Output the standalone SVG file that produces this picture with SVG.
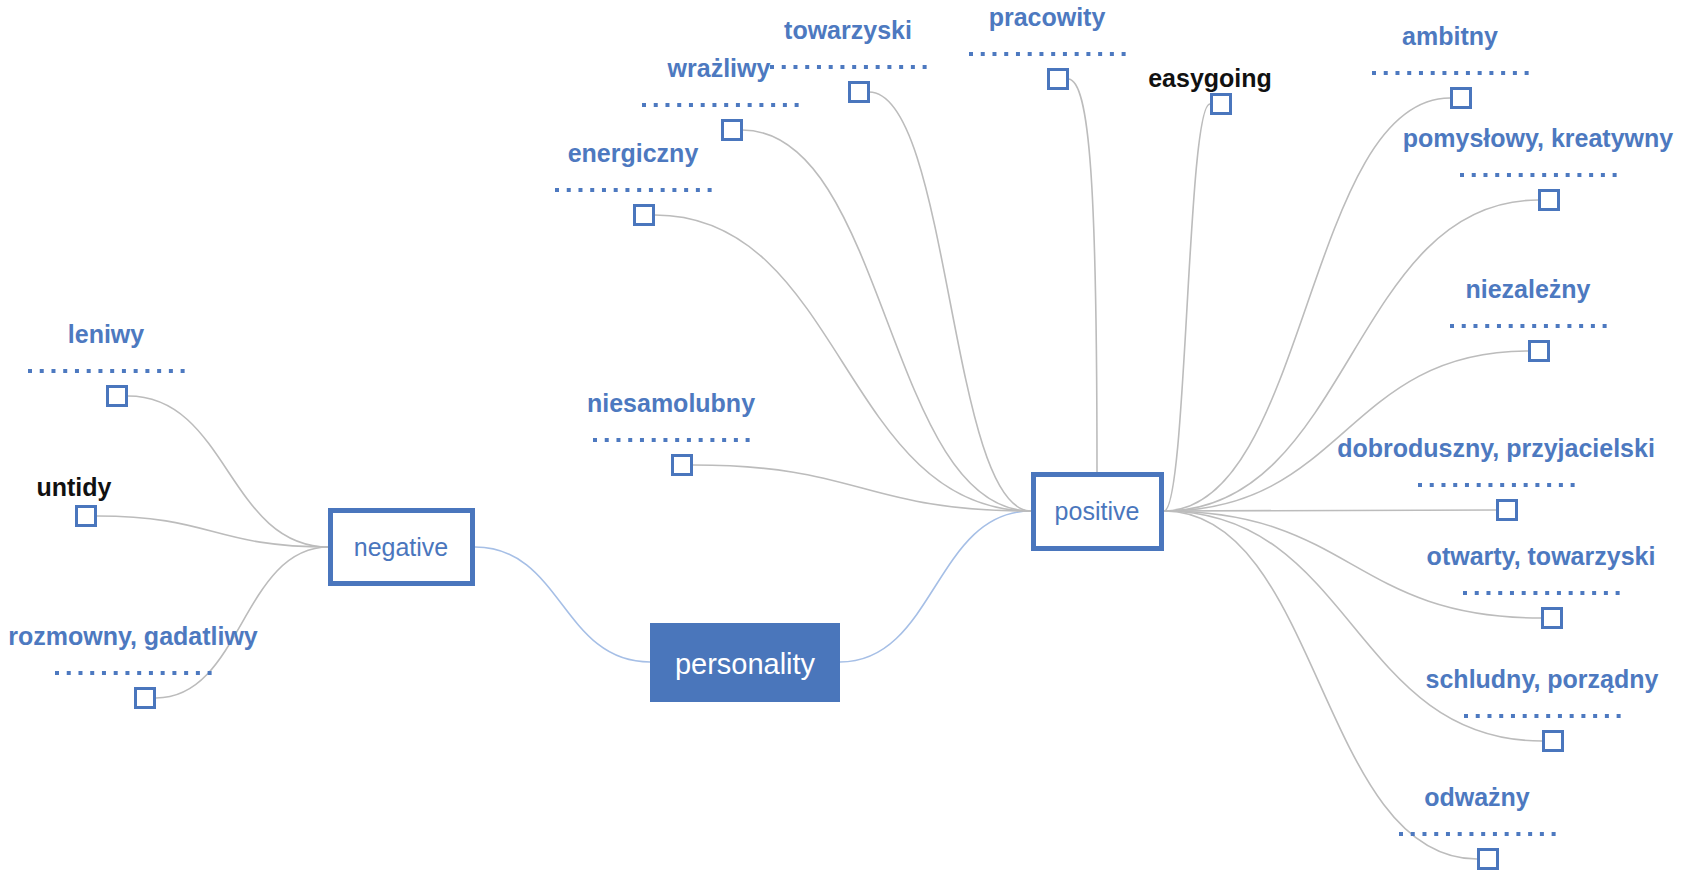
<svg xmlns="http://www.w3.org/2000/svg" width="1690" height="879" viewBox="0 0 1690 879">
<style>
.lbl{font-family:"Liberation Sans",Arial,sans-serif;font-weight:bold;font-size:25px;fill:#4d79c0;text-anchor:middle}
.blk{fill:#111}
.dots{stroke:#4d79c0;stroke-width:4;stroke-dasharray:4 7.74;fill:none}
.sq{fill:#fff;stroke:#4a76bd;stroke-width:3}
.box{fill:#fff;stroke:#4a76bd;stroke-width:5}
.btxt{font-family:"Liberation Sans",Arial,sans-serif;font-size:25px;fill:#4a76bd;text-anchor:middle}
.con{fill:none;stroke:#bcbcbc;stroke-width:1.6}
.conb{fill:none;stroke:#a6bfe6;stroke-width:1.6}
</style>
<rect width="1690" height="879" fill="#fff"/>
<g id="connectors">
<path class="conb" d="M475 547 C562 547 562 662 650 662"/>
<path class="conb" d="M840 662 C935 662 935 511 1031 511"/>
<path class="con" d="M329 547 C228 547 228 396 128 396"/>
<path class="con" d="M329 547 C213 547 213 516 97 516"/>
<path class="con" d="M329 547 C242 547 242 698 156 698"/>
<path class="con" d="M1031 511 C862 511 862 465 693 465"/>
<path class="con" d="M1031 511 C843 511 843 215 655 215"/>
<path class="con" d="M1031 511 C887 511 887 130 742 130"/>
<path class="con" d="M1031 511 C950 511 950 92 869 92"/>
<path class="con" d="M1068 79 C1090 79 1097 190 1097 472"/>
<path class="con" d="M1164 511 C1187 511 1187 104 1210 104"/>
<path class="con" d="M1164 511 C1307 511 1307 98 1450 98"/>
<path class="con" d="M1164 511 C1351 511 1351 200 1538 200"/>
<path class="con" d="M1164 511 C1345 511 1345 351 1528 351"/>
<path class="con" d="M1164 511 L1496 510"/>
<path class="con" d="M1164 511 C1352 511 1352 618 1541 618"/>
<path class="con" d="M1164 511 C1353 511 1353 741 1542 741"/>
<path class="con" d="M1164 511 C1320 511 1320 859 1477 859"/>
</g>
<g id="personality">
<rect x="650" y="623" width="190" height="79" fill="#4a76bb"/>
<text x="745" y="674" font-family="Liberation Sans, Arial, sans-serif" font-size="29" fill="#fff" text-anchor="middle">personality</text>
</g>
<g id="negative">
<rect class="box" x="330.5" y="510.5" width="142" height="73"/>
<text class="btxt" x="401" y="556">negative</text>
</g>
<g id="positive">
<rect class="box" x="1033.5" y="474.5" width="128" height="74"/>
<text class="btxt" x="1097" y="520">positive</text>
</g>
<g id="leniwy">
<text class="lbl" x="106" y="343">leniwy</text>
<line class="dots" x1="28" y1="371" x2="185" y2="371"/>
<rect class="sq" x="107.5" y="386.5" width="19" height="19"/>
</g>
<g id="untidy">
<text class="lbl blk" x="74" y="496">untidy</text>
<rect class="sq" x="76.5" y="506.5" width="19" height="19"/>
</g>
<g id="rozmowny">
<text class="lbl" x="133" y="645">rozmowny, gadatliwy</text>
<line class="dots" x1="55" y1="673" x2="212" y2="673"/>
<rect class="sq" x="135.5" y="688.5" width="19" height="19"/>
</g>
<g id="niesamolubny">
<text class="lbl" x="671" y="412">niesamolubny</text>
<line class="dots" x1="593" y1="440" x2="750" y2="440"/>
<rect class="sq" x="672.5" y="455.5" width="19" height="19"/>
</g>
<g id="energiczny">
<text class="lbl" x="633" y="162">energiczny</text>
<line class="dots" x1="555" y1="190" x2="712" y2="190"/>
<rect class="sq" x="634.5" y="205.5" width="19" height="19"/>
</g>
<g id="wrazliwy">
<text class="lbl" x="719" y="77">wrażliwy</text>
<line class="dots" x1="642" y1="105" x2="799" y2="105"/>
<rect class="sq" x="722.5" y="120.5" width="19" height="19"/>
</g>
<g id="towarzyski">
<text class="lbl" x="848" y="39">towarzyski</text>
<line class="dots" x1="770" y1="67" x2="927" y2="67"/>
<rect class="sq" x="849.5" y="82.5" width="19" height="19"/>
</g>
<g id="pracowity">
<text class="lbl" x="1047" y="26">pracowity</text>
<line class="dots" x1="969" y1="54" x2="1126" y2="54"/>
<rect class="sq" x="1048.5" y="69.5" width="19" height="19"/>
</g>
<g id="easygoing">
<text class="lbl blk" x="1210" y="87">easygoing</text>
<rect class="sq" x="1211.5" y="94.5" width="19" height="19"/>
</g>
<g id="ambitny">
<text class="lbl" x="1450" y="45">ambitny</text>
<line class="dots" x1="1372" y1="73" x2="1529" y2="73"/>
<rect class="sq" x="1451.5" y="88.5" width="19" height="19"/>
</g>
<g id="pomyslowy">
<text class="lbl" x="1538" y="147">pomysłowy, kreatywny</text>
<line class="dots" x1="1460" y1="175" x2="1617" y2="175"/>
<rect class="sq" x="1539.5" y="190.5" width="19" height="19"/>
</g>
<g id="niezalezny">
<text class="lbl" x="1528" y="298">niezależny</text>
<line class="dots" x1="1450" y1="326" x2="1607" y2="326"/>
<rect class="sq" x="1529.5" y="341.5" width="19" height="19"/>
</g>
<g id="dobroduszny">
<text class="lbl" x="1496" y="457">dobroduszny, przyjacielski</text>
<line class="dots" x1="1418" y1="485" x2="1575" y2="485"/>
<rect class="sq" x="1497.5" y="500.5" width="19" height="19"/>
</g>
<g id="otwarty">
<text class="lbl" x="1541" y="565">otwarty, towarzyski</text>
<line class="dots" x1="1463" y1="593" x2="1620" y2="593"/>
<rect class="sq" x="1542.5" y="608.5" width="19" height="19"/>
</g>
<g id="schludny">
<text class="lbl" x="1542" y="688">schludny, porządny</text>
<line class="dots" x1="1464" y1="716" x2="1621" y2="716"/>
<rect class="sq" x="1543.5" y="731.5" width="19" height="19"/>
</g>
<g id="odwazny">
<text class="lbl" x="1477" y="806">odważny</text>
<line class="dots" x1="1399" y1="834" x2="1556" y2="834"/>
<rect class="sq" x="1478.5" y="849.5" width="19" height="19"/>
</g>
</svg>
